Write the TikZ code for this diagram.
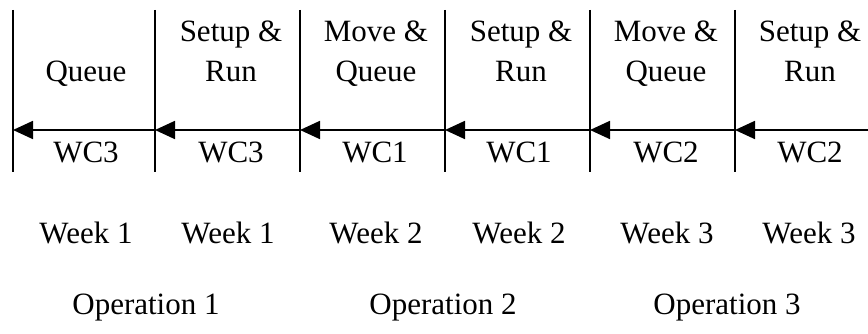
\documentclass[tikz,border=0pt]{standalone}
\usepackage{fontspec}
\setmainfont{Liberation Serif}
\usetikzlibrary{arrows.meta}
\begin{document}
\begin{tikzpicture}[x=1pt,y=-1pt,
  lbl/.style={anchor=base,inner sep=0pt,font=\fontsize{31}{38}\selectfont},
  divider/.style={line width=1.4pt},
  flow/.style={line width=1.8pt,-{Triangle[length=20pt,width=18pt]}}]
\useasboundingbox (0,0) rectangle (868,334);
% divider coordinates
\foreach \i/\x in {0/13,1/155,2/300,3/445,4/590,5/735}{
  \coordinate (t\i) at (\x,10);
  \coordinate (b\i) at (\x,172);
  \coordinate (a\i) at (\x,130);
}
\coordinate (a6) at (868,130);
\foreach \i in {0,...,5}{ \draw[divider] (t\i) -- (b\i); }
\foreach \i/\j in {1/0,2/1,3/2,4/3,5/4,6/5}{ \draw[flow] (a\i) -- (a\j); }
% top labels
\node[lbl] (q1) at (86,82) {Queue};
\node[lbl] (s1a) at (231,42) {Setup \&};
\node[lbl] (s1b) at (231,82) {Run};
\node[lbl] (m2a) at (376,42) {Move \&};
\node[lbl] (m2b) at (376,82) {Queue};
\node[lbl] (s2a) at (521,42) {Setup \&};
\node[lbl] (s2b) at (521,82) {Run};
\node[lbl] (m3a) at (666,42) {Move \&};
\node[lbl] (m3b) at (666,82) {Queue};
\node[lbl] (s3a) at (810,42) {Setup \&};
\node[lbl] (s3b) at (810,82) {Run};
% work centres
\node[lbl] (w1) at (86,163) {WC3};
\node[lbl] (w2) at (231,163) {WC3};
\node[lbl] (w3) at (375,163) {WC1};
\node[lbl] (w4) at (519,163) {WC1};
\node[lbl] (w5) at (666,163) {WC2};
\node[lbl] (w6) at (810,163) {WC2};
% weeks
\node[lbl] (k1) at (86,243) {Week 1};
\node[lbl] (k2) at (228,243) {Week 1};
\node[lbl] (k3) at (376,243) {Week 2};
\node[lbl] (k4) at (519,243) {Week 2};
\node[lbl] (k5) at (667,243) {Week 3};
\node[lbl] (k6) at (809,243) {Week 3};
% operations
\node[lbl] (o1) at (146,314) {Operation 1};
\node[lbl] (o2) at (443,314) {Operation 2};
\node[lbl] (o3) at (727,314) {Operation 3};
\end{tikzpicture}
\end{document}
